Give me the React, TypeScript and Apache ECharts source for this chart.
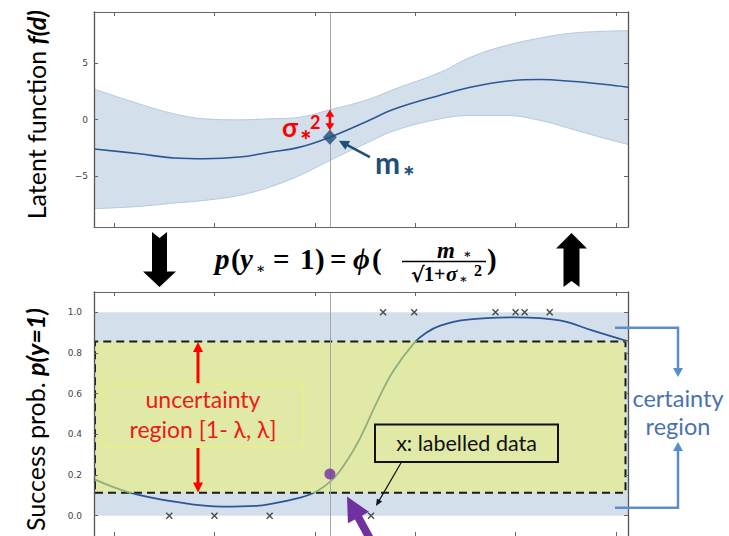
import React, { useEffect, useRef } from 'react';
import * as echarts from 'echarts';

// ---------- data ----------
const X_MIN = -0.2;
const X_MAX = 5.12;
const X_TICKS = [0, 1, 2, 3, 4, 5];
const F_MIN = -9.5;
const F_MAX = 9.5;
const F_TICKS = [-5, 0, 5];
const P_MIN = -0.1;
const P_MAX = 1.1;
const P_TICKS = [0, 0.2, 0.4, 0.6, 0.8, 1.0];

const X_TOP = [-0.2, 0.25, 0.6, 0.9, 1.25, 1.55, 1.85, 2.15, 2.5, 2.8, 3.25, 3.55, 3.9, 4.25, 4.55, 4.9, 5.12];
const MEAN = [-2.6, -3.03, -3.4, -3.47, -3.32, -2.9, -2.44, -1.56, -0.24, 0.94, 2.15, 2.85, 3.38, 3.53, 3.38, 3.09, 2.85];
const UPPER = [2.7, 1.38, 0.5, 0.06, -0.03, 0.06, 0.2, 0.86, 1.68, 2.7, 4.17, 5.5, 6.53, 7.21, 7.62, 7.8, 7.85];
const LOWER = [-7.88, -7.68, -7.38, -7.15, -6.7, -5.97, -4.94, -3.62, -2.15, -0.97, 0.06, 0.35, 0.35, -0.09, -0.82, -1.7, -2.2];

const X_STAR = 2.15;
const M_STAR = -1.56;
const SIGMA_TOP = 0.86;

const X_BOT = [-0.2, 0.15, 0.6, 1.08, 1.42, 1.75, 1.98, 2.18, 2.32, 2.45, 2.62, 2.78, 2.99, 3.11, 3.25, 3.5, 4.0, 4.44, 4.77, 5.12];
const PROB = [0.18, 0.115, 0.069, 0.044, 0.048, 0.077, 0.11, 0.18, 0.27, 0.38, 0.56, 0.71, 0.85, 0.9, 0.935, 0.963, 0.975, 0.96, 0.91, 0.857];
const P_STAR = 0.205;

const LABELLED_X = [0.55, 1.0, 1.55, 2.56, 2.68, 2.99, 3.8, 4.0, 4.09, 4.34];
const LABELLED_Y = [0, 0, 0, 0, 1, 1, 1, 1, 1, 1];

const LAMBDA_LO = 0.113;
const LAMBDA_HI = 0.857;
const CERTAIN_LO = 0;
const CERTAIN_HI = 1;
const UNC_X0 = -0.19;
const UNC_X1 = 5.095;

// ---------- styles ----------
const BLUE_LINE = '#2b5797';
const BAND_FILL = '#d3e0ec';
const BAND_EDGE = '#b3c8de';
const YELLOW = '#e0eaa6';
const GREEN_LINE = '#8fae80';
const PURPLE = '#7030a0';
const DARK_BLUE = '#1f4e79';
const BRACKET = '#5b8ec8';
const SANS = 'Lato, "Open Sans", sans-serif';
const SERIF = '"Liberation Serif", "DejaVu Serif", serif';

function arrowEls(x1: number, y1: number, x2: number, y2: number, color: string, w: number, hl: number, hw: number, dbl = false): any[] {
  const dx = x2 - x1, dy = y2 - y1, L = Math.hypot(dx, dy);
  const ux = dx / L, uy = dy / L, nx = -uy, ny = ux;
  const head = (tx: number, ty: number, vx: number, vy: number) => ({
    type: 'polygon', z: 100, silent: true,
    shape: { points: [[tx, ty], [tx - vx * hl + nx * hw / 2, ty - vy * hl + ny * hw / 2], [tx - vx * hl - nx * hw / 2, ty - vy * hl - ny * hw / 2]] },
    style: { fill: color },
  });
  const sx = dbl ? x1 + ux * hl * 0.8 : x1;
  const sy = dbl ? y1 + uy * hl * 0.8 : y1;
  const els: any[] = [
    { type: 'line', z: 100, silent: true, shape: { x1: sx, y1: sy, x2: x2 - ux * hl * 0.8, y2: y2 - uy * hl * 0.8 }, style: { stroke: color, lineWidth: w } },
    head(x2, y2, ux, uy),
  ];
  if (dbl) els.push(head(x1, y1, -ux, -uy));
  return els;
}

function fatArrow(tailX: number, tailY: number, tipX: number, tipY: number, sw: number, hl: number, hw: number, color: string) {
  const dx = tipX - tailX, dy = tipY - tailY, L = Math.hypot(dx, dy);
  const ux = dx / L, uy = dy / L, nx = -uy, ny = ux;
  const bx = tipX - ux * hl, by = tipY - uy * hl;
  return {
    type: 'polygon', z: 100, silent: true,
    shape: {
      points: [
        [tipX, tipY],
        [bx + nx * hw / 2, by + ny * hw / 2],
        [bx + nx * sw / 2, by + ny * sw / 2],
        [tailX + nx * sw / 2, tailY + ny * sw / 2],
        [tailX - nx * sw / 2, tailY - ny * sw / 2],
        [bx - nx * sw / 2, by - ny * sw / 2],
        [bx - nx * hw / 2, by - ny * hw / 2],
      ],
    },
    style: { fill: color },
  };
}

function txt(text: string, x: number, y: number, size: number, opts: any = {}) {
  return {
    type: 'text', x, y, z: 101, silent: true,
    style: {
      text,
      fontSize: size,
      fontFamily: opts.family || SERIF,
      fontWeight: opts.weight || 'bold',
      fontStyle: opts.style || 'normal',
      fill: opts.fill || '#000',
      align: opts.align || 'left',
      verticalAlign: opts.valign || 'middle',
    },
  };
}

function buildGraphic(chart: any): any[] {
  const pStar = chart.convertToPixel({ gridIndex: 0 }, [X_STAR, M_STAR]);
  const pTop = chart.convertToPixel({ gridIndex: 0 }, [X_STAR, SIGMA_TOP]);
  const g: any[] = [];

  // axis titles
  g.push({
    type: 'text', x: 36, y: 10, rotation: Math.PI / 2, z: 101, silent: true,
    style: {
      text: '{n|Latent function }{b|f(d)}', align: 'right', verticalAlign: 'middle',
      rich: {
        n: { fontFamily: SANS, fontSize: 25, fill: '#000' },
        b: { fontFamily: SANS, fontSize: 25, fontWeight: 'bold', fontStyle: 'italic', fill: '#000' },
      },
    },
  });
  g.push({
    type: 'text', x: 35, y: 308, rotation: Math.PI / 2, z: 101, silent: true,
    style: {
      text: '{n|Success prob. }{b|p(y=1)}', align: 'right', verticalAlign: 'middle',
      rich: {
        n: { fontFamily: SANS, fontSize: 25, fill: '#000' },
        b: { fontFamily: SANS, fontSize: 25, fontWeight: 'bold', fontStyle: 'italic', fill: '#000' },
      },
    },
  });

  // sigma arrow + label
  g.push(...arrowEls(pStar[0], pStar[1] - 7, pTop[0], pTop[1], '#ff0000', 2.5, 7, 9, true));
  g.push(txt('σ', 282, 127, 26, { family: SANS, fill: '#ff0000' }));
  g.push(txt('∗', 300, 133, 14, { family: SANS, fill: '#ff0000' }));
  g.push(txt('2', 310, 122, 18, { family: SANS, fill: '#ff0000' }));

  // m* arrow + label
  g.push(...arrowEls(pStar[0] + 40, pStar[1] + 20, pStar[0] + 9, pStar[1] + 3.5, DARK_BLUE, 2.5, 10, 10));
  g.push(txt('m', 375, 162, 30, { family: SANS, fill: DARK_BLUE }));
  g.push(txt('∗', 403, 169, 14, { family: SANS, fill: DARK_BLUE }));

  // big black chevron arrows
  g.push({
    type: 'polygon', z: 100, silent: true,
    shape: { points: [[152, 232], [159.5, 238], [167, 232], [167, 271.5], [176, 271.5], [159.5, 287], [143, 271.5], [152, 271.5]] },
    style: { fill: '#000' },
  });
  g.push({
    type: 'polygon', z: 100, silent: true,
    shape: { points: [[571.5, 233], [587, 248.5], [579.5, 248.5], [579.5, 287], [571.5, 281], [563.5, 287], [563.5, 248.5], [556, 248.5]] },
    style: { fill: '#000' },
  });

  // formula
  const bi = { style: 'italic' };
  g.push(txt('p', 215, 259, 29, bi));
  g.push(txt('(', 231, 259, 29));
  g.push(txt('y', 240, 259, 29, bi));
  g.push(txt('∗', 256, 268, 14));
  g.push(txt('=', 273, 259, 29));
  g.push(txt('1', 300, 259, 29));
  g.push(txt(')', 315, 259, 29));
  g.push(txt('=', 330, 259, 29));
  g.push(txt('ϕ', 353, 259, 29, bi));
  g.push(txt('(', 372, 259, 29));
  g.push(txt('m', 437, 250, 23, bi));
  g.push(txt('∗', 463, 254, 12));
  g.push({ type: 'line', z: 100, silent: true, shape: { x1: 402, y1: 261.5, x2: 486, y2: 261.5 }, style: { stroke: '#000', lineWidth: 1.5 } });
  g.push(txt('√', 411, 274, 21, { family: '"DejaVu Serif", serif' }));
  g.push(txt('1+', 424, 274, 20));
  g.push(txt('σ', 446, 274, 21, bi));
  g.push(txt('∗', 459, 279, 12));
  g.push(txt('2', 474, 270, 16));
  g.push(txt(')', 487, 259, 29));

  // uncertainty region annotation
  g.push({ type: 'rect', z: 99, silent: true, shape: { x: 104, y: 384, width: 199, height: 63 }, style: { fill: 'none', stroke: '#f0f07a', lineWidth: 1 } });
  g.push(txt('uncertainty', 203, 399, 23, { family: SANS, weight: 'normal', fill: '#f01818', align: 'center' }));
  g.push(txt('region [1- λ, λ]', 203, 429, 23, { family: SANS, weight: 'normal', fill: '#f01818', align: 'center' }));
  g.push(...arrowEls(198, 383, 198, 342, '#ff0000', 3, 10, 10));
  g.push(...arrowEls(198, 448, 198, 492.5, '#ff0000', 3, 10, 10));

  // labelled data box
  g.push({ type: 'rect', z: 99, silent: true, shape: { x: 375, y: 424.5, width: 183, height: 37.5 }, style: { fill: 'none', stroke: '#111', lineWidth: 2 } });
  g.push(txt('x: labelled data', 466.5, 443, 21.5, { family: SANS, weight: 'normal', fill: '#111', align: 'center' }));
  g.push(...arrowEls(401.5, 462, 376, 506, '#111', 1.2, 7, 6));

  // certainty bracket
  g.push({ type: 'polyline', z: 100, silent: true, shape: { points: [[615, 327.7], [678, 327.7], [678, 369]] }, style: { stroke: BRACKET, lineWidth: 2.5, fill: 'none' } });
  g.push({ type: 'polygon', z: 100, silent: true, shape: { points: [[673, 368], [683, 368], [678, 377]] }, style: { fill: BRACKET } });
  g.push({ type: 'polyline', z: 100, silent: true, shape: { points: [[615, 507.7], [678, 507.7], [678, 450]] }, style: { stroke: BRACKET, lineWidth: 2.5, fill: 'none' } });
  g.push({ type: 'polygon', z: 100, silent: true, shape: { points: [[673, 451], [683, 451], [678, 442]] }, style: { fill: BRACKET } });
  g.push(txt('certainty', 678, 398, 23.5, { family: SANS, weight: 'normal', fill: '#4a72b0', align: 'center' }));
  g.push(txt('region', 678, 426, 23.5, { family: SANS, weight: 'normal', fill: '#4a72b0', align: 'center' }));

  // purple arrow
  g.push(fatArrow(375, 548, 347, 496.5, 8, 24, 24, PURPLE));

  return g;
}

function xAxisCfg(gridIndex: number, position: 'top' | 'bottom') {
  return {
    type: 'value', gridIndex, position, min: X_MIN, max: X_MAX, z: 10,
    axisLine: { show: true, onZero: false, lineStyle: { color: '#666', width: 1 } },
    axisTick: { show: true, inside: true, length: 4, customValues: X_TICKS, lineStyle: { color: '#666' } },
    axisLabel: { show: false },
    splitLine: { show: false },
  };
}

function yAxisCfg(gridIndex: number, position: 'left' | 'right', min: number, max: number, ticks: number[], labels: boolean, margin: number, fmt: (v: number) => string) {
  return {
    type: 'value', gridIndex, position, min, max, z: 10,
    axisLine: { show: true, onZero: false, lineStyle: { color: '#555', width: 1.3 } },
    axisTick: { show: true, inside: true, length: 4, customValues: ticks, lineStyle: { color: '#666' } },
    axisLabel: { show: labels, customValues: ticks, margin, formatter: fmt, fontFamily: '"DejaVu Sans", sans-serif', fontSize: 9, color: '#444' },
    splitLine: { show: false },
  };
}

export default function App() {
  const ref = useRef<HTMLDivElement>(null);
  useEffect(() => {
    if (!ref.current) return;
    const chart = echarts.init(ref.current, undefined, { renderer: 'svg' });
    const fFmt = (v: number) => String(v).replace('-', '\u2212');
    const pFmt = (v: number) => v.toFixed(1);
    const option: any = {
      animation: false,
      backgroundColor: '#fff',
      grid: [
        { left: 94, top: 12, width: 534, height: 215 },
        { left: 94, top: 292, width: 534, height: 244 },
      ],
      xAxis: [xAxisCfg(0, 'bottom'), xAxisCfg(0, 'top'), xAxisCfg(1, 'bottom'), xAxisCfg(1, 'top')],
      yAxis: [
        yAxisCfg(0, 'left', F_MIN, F_MAX, F_TICKS, true, 6, fFmt),
        yAxisCfg(0, 'right', F_MIN, F_MAX, F_TICKS, false, 6, fFmt),
        yAxisCfg(1, 'left', P_MIN, P_MAX, P_TICKS, true, 12, pFmt),
        yAxisCfg(1, 'right', P_MIN, P_MAX, P_TICKS, false, 12, pFmt),
      ],
      visualMap: {
        type: 'piecewise', show: false, seriesIndex: 5, dimension: 1,
        pieces: [
          { lt: LAMBDA_LO, color: BLUE_LINE },
          { gte: LAMBDA_LO, lte: LAMBDA_HI, color: GREEN_LINE },
          { gt: LAMBDA_HI, color: BLUE_LINE },
        ],
      },
      series: [
        {
          // upper edge of the confidence band, filled downwards
          name: 'upper', type: 'line', xAxisIndex: 0, yAxisIndex: 0, symbol: 'none', smooth: 0.4, silent: true, z: 1,
          data: X_TOP.map((x, i) => [x, UPPER[i]]),
          lineStyle: { color: BAND_EDGE, width: 1 },
          areaStyle: { color: BAND_FILL, opacity: 1, origin: 'start' },
        },
        {
          // lower edge of the band, white below it
          name: 'lower', type: 'line', xAxisIndex: 0, yAxisIndex: 0, symbol: 'none', smooth: 0.4, silent: true, z: 2,
          data: X_TOP.map((x, i) => [x, LOWER[i]]),
          lineStyle: { color: BAND_EDGE, width: 1 },
          areaStyle: { color: '#ffffff', opacity: 1, origin: 'start' },
        },
        {
          name: 'mean', type: 'line', xAxisIndex: 0, yAxisIndex: 0, symbol: 'none', smooth: 0.4, silent: true, z: 3,
          data: X_TOP.map((x, i) => [x, MEAN[i]]),
          lineStyle: { color: BLUE_LINE, width: 1.6 },
        },
        {
          name: 'mstar', type: 'scatter', xAxisIndex: 0, yAxisIndex: 0, z: 5, silent: true,
          data: [[X_STAR, M_STAR]], symbol: 'diamond', symbolSize: [14, 15],
          itemStyle: { color: DARK_BLUE },
          markLine: {
            silent: true, symbol: ['none', 'none'], label: { show: false },
            lineStyle: { color: '#a6a6a6', width: 1, type: 'solid' },
            data: [{ xAxis: X_STAR }],
          },
        },
        {
          name: 'regions', type: 'line', xAxisIndex: 2, yAxisIndex: 2, z: 1, silent: true, symbol: 'none',
          data: [],
          markArea: {
            silent: true,
            data: [
              [{ yAxis: CERTAIN_LO, itemStyle: { color: BAND_FILL } }, { yAxis: CERTAIN_HI }],
              [
                { coord: [UNC_X0, LAMBDA_LO], itemStyle: { color: YELLOW, borderColor: '#1a1a1a', borderWidth: 2, borderType: [8, 5] } },
                { coord: [UNC_X1, LAMBDA_HI] },
              ],
            ],
          },
        },
        {
          name: 'prob', type: 'line', xAxisIndex: 2, yAxisIndex: 2, symbol: 'none', smooth: 0.4, silent: true, z: 3,
          data: X_BOT.map((x, i) => [x, PROB[i]]),
          lineStyle: { width: 1.8 },
        },
        {
          name: 'labelled', type: 'scatter', xAxisIndex: 2, yAxisIndex: 2, silent: true, z: 4,
          data: LABELLED_X.map((x, i) => [x, LABELLED_Y[i]]),
          symbol: 'path://M0,0L10,10M10,0L0,10', symbolSize: 6,
          itemStyle: { color: 'none', borderColor: '#222', borderWidth: 1.4 },
        },
        {
          name: 'pstar', type: 'scatter', xAxisIndex: 2, yAxisIndex: 2, silent: true, z: 6,
          data: [[X_STAR, P_STAR]], symbol: 'circle', symbolSize: 11,
          itemStyle: { color: PURPLE },
          markLine: {
            silent: true, symbol: ['none', 'none'], label: { show: false },
            lineStyle: { color: '#a6a6a6', width: 1, type: 'solid' },
            data: [{ xAxis: X_STAR }],
          },
        },
      ],
    };
    chart.setOption(option);
    chart.setOption({ graphic: buildGraphic(chart) });
    return () => chart.dispose();
  }, []);
  return <div ref={ref} style={{ position: 'absolute', left: 0, top: 0, width: 729, height: 536 }} />;
}
